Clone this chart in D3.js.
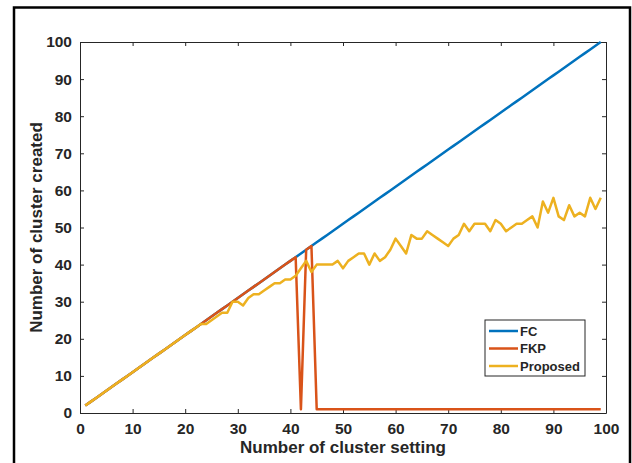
<!DOCTYPE html>
<html>
<head>
<meta charset="utf-8">
<script src="https://cdn.jsdelivr.net/npm/d3@7"></script>
<style>
  body { margin: 0; background: #fff; }
  svg text { font-family: "Liberation Sans", Arial, Helvetica, sans-serif; fill: #262626; }
</style>
</head>
<body>
<div id="container"></div>
<script>
// number of cluster setting (x)
const clusterSetting = [1,2,3,4,5,6,7,8,9,10,11,12,13,14,15,16,17,18,19,20,
  21,22,23,24,25,26,27,28,29,30,31,32,33,34,35,36,37,38,39,40,
  41,42,43,44,45,46,47,48,49,50,51,52,53,54,55,56,57,58,59,60,
  61,62,63,64,65,66,67,68,69,70,71,72,73,74,75,76,77,78,79,80,
  81,82,83,84,85,86,87,88,89,90,91,92,93,94,95,96,97,98,99];

// FC series
const fcValues = [2,3,4,5,6,7,8,9,10,11,12,13,14,15,16,17,18,19,20,21,
  22,23,24,25,26,27,28,29,30,31,32,33,34,35,36,37,38,39,40,41,
  42,43,44,45,46,47,48,49,50,51,52,53,54,55,56,57,58,59,60,61,
  62,63,64,65,66,67,68,69,70,71,72,73,74,75,76,77,78,79,80,81,
  82,83,84,85,86,87,88,89,90,91,92,93,94,95,96,97,98,99,100];

// FKP series
const fkpValues = [2,3,4,5,6,7,8,9,10,11,12,13,14,15,16,17,18,19,20,21,
  22,23,24,25,26,27,28,29,30,31,32,33,34,35,36,37,38,39,40,41,
  42,1,44,45,1,1,1,1,1,1,1,1,1,1,1,1,1,1,1,1,
  1,1,1,1,1,1,1,1,1,1,1,1,1,1,1,1,1,1,1,1,
  1,1,1,1,1,1,1,1,1,1,1,1,1,1,1,1,1,1,1];

// Proposed series
const proposedValues = [2,3,4,5,6,7,8,9,10,11,12,13,14,15,16,17,18,19,20,21,
  22,23,24,24,25,26,27,27,30,30,29,31,32,32,33,34,35,35,36,36,
  37,39,41,38,40,40,40,40,41,39,41,42,43,43,40,43,41,42,44,47,
  45,43,48,47,47,49,48,47,46,45,47,48,51,49,51,51,51,49,52,51,
  49,50,51,51,52,53,50,57,54,58,53,52,56,53,54,53,58,55,58];

const seriesNames = ["FC", "FKP", "Proposed"];
const seriesColors = ["#0072BD", "#D95319", "#EDB120"];
const xTicks = [0,10,20,30,40,50,60,70,80,90,100];
const yTicks = [0,10,20,30,40,50,60,70,80,90,100];

const width = 632, height = 463;
const margin = {top: 42, right: 26, bottom: 50, left: 80};

const svg = d3.select("#container").append("svg")
  .attr("width", width)
  .attr("height", height);

svg.append("rect").attr("width", width).attr("height", height).attr("fill", "#fff");

// outer frame
svg.append("rect")
  .attr("x", 14).attr("y", 7.5)
  .attr("width", 616).attr("height", 470)
  .attr("fill", "none").attr("stroke", "#000").attr("stroke-width", 2.5);

const xScale = d3.scaleLinear().domain([0, 100]).range([margin.left, width - margin.right]);
const yScale = d3.scaleLinear().domain([0, 100]).range([height - margin.bottom, margin.top]);

// axes (ticks inside, box on)
const xAxis = d3.axisBottom(xScale).tickValues(xTicks).tickSizeInner(-4).tickSizeOuter(0).tickPadding(10);
const yAxis = d3.axisLeft(yScale).tickValues(yTicks).tickSizeInner(-4).tickSizeOuter(0).tickPadding(8);
const xTop = d3.axisTop(xScale).tickValues(xTicks).tickSizeInner(-4).tickSizeOuter(0).tickFormat("");
const yRight = d3.axisRight(yScale).tickValues(yTicks).tickSizeInner(-4).tickSizeOuter(0).tickFormat("");

const gx = svg.append("g").attr("transform", `translate(0,${yScale(0)})`).call(xAxis);
const gy = svg.append("g").attr("transform", `translate(${xScale(0)},0)`).call(yAxis);
const gxt = svg.append("g").attr("transform", `translate(0,${yScale(100)})`).call(xTop);
const gyr = svg.append("g").attr("transform", `translate(${xScale(100)},0)`).call(yRight);

[gx, gy, gxt, gyr].forEach(g => {
  g.select(".domain").attr("stroke", "#262626").attr("stroke-width", 1);
  g.selectAll(".tick line").attr("stroke", "#262626");
});
[gx, gy].forEach(g => {
  g.selectAll(".tick text")
    .style("font-size", "15.5px")
    .style("font-weight", "bold")
    .style("fill", "#262626");
});

// axis labels
svg.append("text")
  .attr("x", xScale(50)).attr("y", 453)
  .attr("text-anchor", "middle")
  .style("font-size", "17px").style("font-weight", "bold")
  .text("Number of cluster setting");

svg.append("text")
  .attr("transform", `translate(42,${yScale(50)}) rotate(-90)`)
  .attr("text-anchor", "middle")
  .style("font-size", "17px").style("font-weight", "bold")
  .text("Number of cluster created");

// lines
const allSeries = [fcValues, fkpValues, proposedValues];
const line = d3.line()
  .x((d, i) => xScale(clusterSetting[i]))
  .y(d => yScale(d));

allSeries.forEach((vals, k) => {
  svg.append("path")
    .datum(vals)
    .attr("fill", "none")
    .attr("stroke", seriesColors[k])
    .attr("stroke-width", 2.5)
    .attr("stroke-linejoin", "round")
    .attr("d", line);
});

// legend
const legend = svg.append("g").attr("transform", "translate(485,320)");
legend.append("rect")
  .attr("width", 100).attr("height", 56)
  .attr("fill", "#fff").attr("stroke", "#262626").attr("stroke-width", 1);

seriesNames.forEach((name, k) => {
  const y = 11 + k * 17.5;
  legend.append("line")
    .attr("x1", 4).attr("x2", 33)
    .attr("y1", y).attr("y2", y)
    .attr("stroke", seriesColors[k]).attr("stroke-width", 2.5);
  legend.append("text")
    .attr("x", 35).attr("y", y)
    .attr("dy", "0.35em")
    .style("font-size", "13px").style("font-weight", "bold")
    .text(name);
});
</script>
</body>
</html>
